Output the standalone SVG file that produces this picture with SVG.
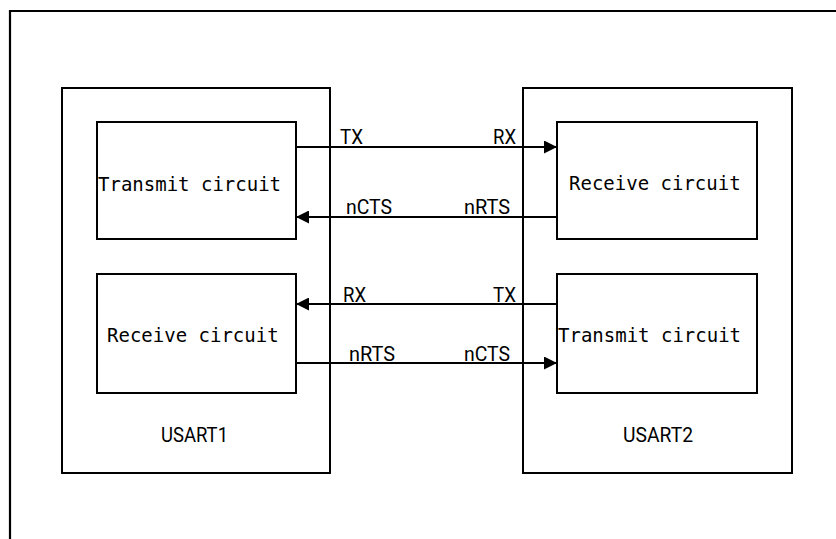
<svg xmlns="http://www.w3.org/2000/svg" width="836" height="539" viewBox="0 0 836 539">
<style>
.frame{fill:none;stroke:#000;stroke-width:2.2}
.box{fill:none;stroke:#000;stroke-width:2}
.lbl{font-family:"DejaVu Sans Mono","Liberation Mono",monospace;font-size:19px;fill:#000}
.nm{font-family:Roboto,"Liberation Sans",sans-serif;font-size:20px;fill:#000}
.sig{font-family:Roboto,"Liberation Sans",sans-serif;font-size:21px;fill:#000}
.ln{stroke:#000;stroke-width:1.8;fill:none}
</style>
<defs>
<marker id="ah" viewBox="0 0 13 13" refX="13" refY="6.5" markerWidth="13" markerHeight="13" markerUnits="userSpaceOnUse" orient="auto">
<path d="M0,0 L13,6.5 L0,13 Z" fill="#000"/>
</marker>
</defs>
<rect width="836" height="539" fill="#fff"/>
<path class="frame" d="M10,539 L10,11 L836,11"/>
<g id="usart1">
<rect class="box" x="62" y="88" width="268" height="385"/>
<text class="nm" x="161" y="442" textLength="67" lengthAdjust="spacingAndGlyphs">USART1</text>
</g>
<g id="usart2">
<rect class="box" x="523" y="88" width="269" height="385"/>
<text class="nm" x="623" y="442" textLength="70" lengthAdjust="spacingAndGlyphs">USART2</text>
</g>
<g id="tx1">
<rect class="box" x="97" y="122" width="199" height="117"/>
<text class="lbl" x="98" y="191">Transmit circuit</text>
</g>
<g id="rx1">
<rect class="box" x="97" y="274" width="199" height="119"/>
<text class="lbl" x="107" y="342">Receive circuit</text>
</g>
<g id="rx2">
<rect class="box" x="557" y="122" width="200" height="117"/>
<text class="lbl" x="569" y="190">Receive circuit</text>
</g>
<g id="tx2">
<rect class="box" x="557" y="274" width="200" height="119"/>
<text class="lbl" x="558" y="342">Transmit circuit</text>
</g>
<g id="connectors">
<line class="ln" x1="296" y1="147" x2="557" y2="147" marker-end="url(#ah)"/>
<line class="ln" x1="557" y1="217" x2="296" y2="217" marker-end="url(#ah)"/>
<line class="ln" x1="557" y1="304" x2="296" y2="304" marker-end="url(#ah)"/>
<line class="ln" x1="296" y1="363" x2="557" y2="363" marker-end="url(#ah)"/>
<text class="sig" x="340" y="144" textLength="23" lengthAdjust="spacingAndGlyphs">TX</text>
<text class="sig" x="493" y="144" textLength="23" lengthAdjust="spacingAndGlyphs">RX</text>
<text class="sig" x="346" y="214" textLength="46" lengthAdjust="spacingAndGlyphs">nCTS</text>
<text class="sig" x="464" y="214" textLength="46" lengthAdjust="spacingAndGlyphs">nRTS</text>
<text class="sig" x="343" y="302" textLength="23" lengthAdjust="spacingAndGlyphs">RX</text>
<text class="sig" x="493" y="302" textLength="23" lengthAdjust="spacingAndGlyphs">TX</text>
<text class="sig" x="349" y="361" textLength="46" lengthAdjust="spacingAndGlyphs">nRTS</text>
<text class="sig" x="464" y="361" textLength="46" lengthAdjust="spacingAndGlyphs">nCTS</text>
</g>
</svg>
